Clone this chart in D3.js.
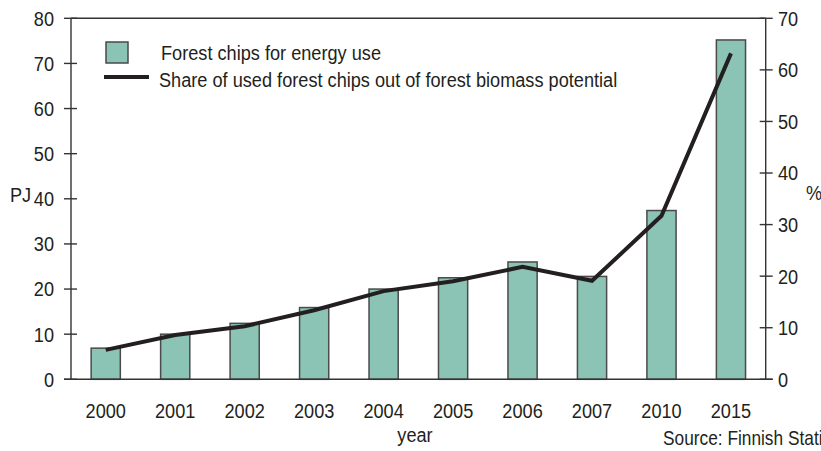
<!DOCTYPE html>
<html><head><meta charset="utf-8">
<script src="https://cdn.jsdelivr.net/npm/d3@7"></script>
<style>
html,body{margin:0;padding:0;background:#fff;}
svg text{font-family:"Liberation Sans Narrow","Arial Narrow","Liberation Sans",Arial,sans-serif;fill:#231f20;}
</style></head>
<body><svg id="chart" width="821" height="451"></svg>
<script>
const years = ["2000","2001","2002","2003","2004","2005","2006","2007","2010","2015"];
const chipsPJ = [6.9, 10.0, 12.4, 15.9, 20.0, 22.5, 26.0, 22.8, 37.4, 75.2];
const sharePct = [5.7, 8.6, 10.3, 13.4, 17.1, 19.0, 21.8, 19.1, 31.7, 63.2];
const leftTicks = [0,10,20,30,40,50,60,70,80];
const rightTicks = [0,10,20,30,40,50,60,70];
const legendLabels = ["Forest chips for energy use","Share of used forest chips out of forest biomass potential"];

const svg = d3.select("#chart");
const L = 71, R = 765.7, T = 18.3, B = 379.3;
const FS = 21, SX = 0.865;
const axisCol = "#333";

function txt(parent, x, y, s, opts={}) {
  const t = parent.append("text")
    .attr("transform", `translate(${x},${y}) scale(${SX},1)`)
    .attr("font-size", opts.size || FS)
    .attr("text-anchor", opts.anchor || "start")
    .text(s);
  if (opts.dy) t.attr("dy", opts.dy);
  return t;
}

const x = d3.scaleBand().domain(years).range([L, R]).padding(0);
const yL = d3.scaleLinear().domain([0,80]).range([B, T]);
const yR = d3.scaleLinear().domain([0,70]).range([B, T]);
const bw = x.step()*0.42;
const cx = d => x(d)+x.bandwidth()/2;

// bars
svg.append("g").selectAll("rect").data(years).join("rect")
  .attr("x", d=>cx(d)-bw/2)
  .attr("y", (d,i)=>yL(chipsPJ[i]))
  .attr("width", bw)
  .attr("height", (d,i)=>B-yL(chipsPJ[i]))
  .attr("fill","#8bc3b4").attr("stroke","#4a4a4a").attr("stroke-width",1.5);

// frame
const g = svg.append("g").attr("stroke",axisCol).attr("stroke-width",1.4).attr("fill","none");
g.append("line").attr("x1",L).attr("x2",L).attr("y1",T).attr("y2",B);
g.append("line").attr("x1",R).attr("x2",R).attr("y1",T).attr("y2",B);
g.append("line").attr("x1",L).attr("x2",R).attr("y1",T).attr("y2",T);
g.append("line").attr("x1",L-7).attr("x2",R+7).attr("y1",B).attr("y2",B);
g.selectAll(".lt").data(leftTicks).join("line").attr("x1",L-7).attr("x2",L+6).attr("y1",d=>yL(d)).attr("y2",d=>yL(d));
g.selectAll(".rt").data(rightTicks).join("line").attr("x1",R-6).attr("x2",R+7).attr("y1",d=>yR(d)).attr("y2",d=>yR(d));

// tick labels
const gl = svg.append("g");
leftTicks.forEach(d => txt(gl, 54, yL(d), d, {anchor:"end", dy:"0.35em"}));
const gr = svg.append("g");
rightTicks.forEach(d => txt(gr, 778, yR(d), d, {anchor:"start", dy:"0.35em"}));
const gx = svg.append("g");
years.forEach(d => txt(gx, cx(d), 418, d, {anchor:"middle"}));

// line
const line = d3.line().x((d,i)=>cx(years[i])).y(d=>yR(d));
svg.append("path").datum(sharePct).attr("d",line).attr("fill","none")
  .attr("stroke","#231f20").attr("stroke-width",4).attr("stroke-linejoin","miter");

// axis titles
txt(svg, 10, 202, "PJ");
txt(svg, 806, 200, "%");
txt(svg, 415, 442, "year", {anchor:"middle"});
txt(svg, 663, 445, "Source: Finnish Statistics", {size:20});

// legend
svg.append("rect").attr("x",106).attr("y",42).attr("width",22).attr("height",21)
  .attr("fill","#8bc3b4").attr("stroke","#4a4a4a").attr("stroke-width",1.5);
svg.append("line").attr("x1",104).attr("x2",149).attr("y1",77).attr("y2",77)
  .attr("stroke","#231f20").attr("stroke-width",4);
txt(svg, 161, 60, legendLabels[0]);
txt(svg, 159, 87, legendLabels[1]);
</script></body></html>
